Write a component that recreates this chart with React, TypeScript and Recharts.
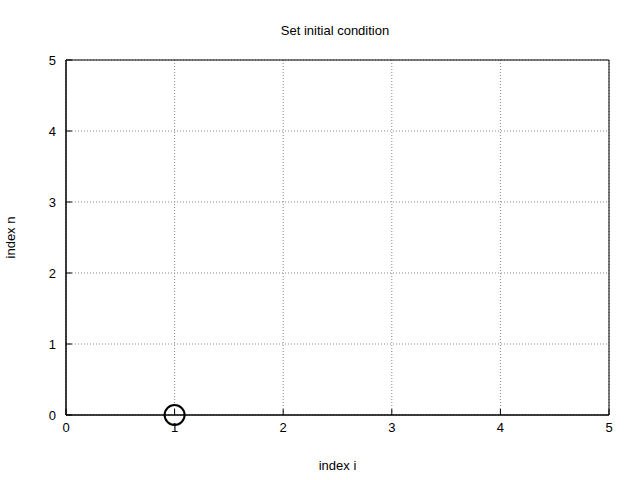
import React from 'react';
import { ScatterChart, Scatter, XAxis, YAxis, CartesianGrid, Label, ReferenceArea } from 'recharts';

const xTicks = [0, 1, 2, 3, 4, 5];
const yTicks = [0, 1, 2, 3, 4, 5];
const points = [{ i: 1, n: 0 }];

const font = { fontFamily: 'Liberation Sans, Arial, sans-serif', fontSize: 13, fill: '#000' };

export default function App() {
  return (
    <div style={{ position: 'absolute', left: 0, top: 0, background: '#fff' }}>
      <ScatterChart width={640} height={480} margin={{ top: 60, right: 31, bottom: 0, left: 0 }}>
        <text x={335} y={35} textAnchor="middle" style={font as any}>Set initial condition</text>
        <CartesianGrid xAxisId="b" yAxisId="l" stroke="#888" strokeDasharray="1 2" />
        <XAxis xAxisId="b" type="number" dataKey="i" domain={[0, 5]} ticks={xTicks} height={65}
          stroke="#000" tick={font} tickSize={-6} tickMargin={14}>
          <Label value="index i" position="insideBottom" offset={10} style={font as any} />
        </XAxis>
        <YAxis yAxisId="l" type="number" dataKey="n" domain={[0, 5]} ticks={yTicks} width={66}
          stroke="#000" tick={font} tickSize={-6} tickMargin={16}>
          <Label value="index n" angle={-90} position="insideLeft" offset={10} style={{ ...font, textAnchor: 'middle' } as any} />
        </YAxis>
        <ReferenceArea xAxisId="b" yAxisId="l" x1={0} x2={5} y1={0} y2={5} fill="none" stroke="#000" strokeWidth={1} ifOverflow="visible" />
        <Scatter xAxisId="b" yAxisId="l" data={points} isAnimationActive={false}
          shape={(p: any) => <circle cx={p.cx} cy={p.cy} r={10} fill="none" stroke="#000" strokeWidth={2} />} />
      </ScatterChart>
    </div>
  );
}
